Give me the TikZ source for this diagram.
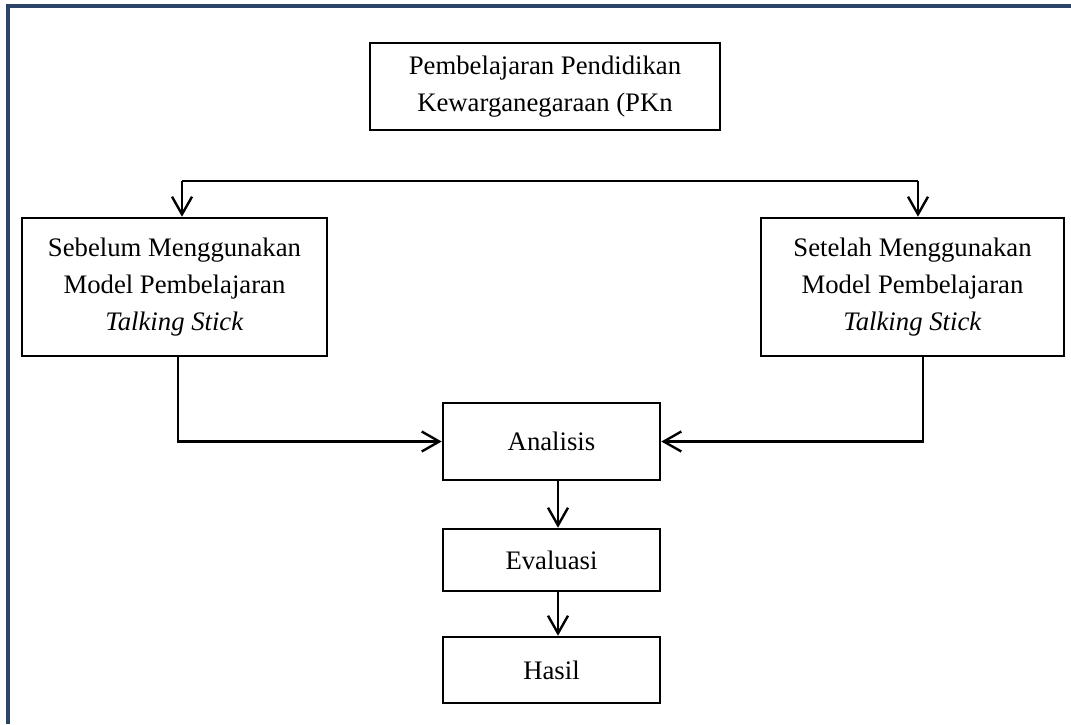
\documentclass[tikz,border=0pt]{standalone}
\usepackage{fontspec}
\setmainfont{Liberation Serif}
\usetikzlibrary{arrows.meta,calc}

\definecolor{bingkai}{RGB}{44,68,104}
\tikzset{
  kotak/.style={draw=black,line width=1.8pt,align=center,inner sep=2pt,
    font=\fontsize{19}{26.5}\selectfont},
  panah/.style={line width=1.7pt,-{Straight Barb[length=4.4mm,width=5mm,line width=1.7pt]}},
}

\begin{document}
\begin{tikzpicture}[x=0.025cm,y=-0.025cm]
  \useasboundingbox (0,0) rectangle (1071,724);
  \draw[bingkai,line width=2.4pt] (8,724) -- (8,6) -- (1071,6);

  \node[kotak,minimum width=8.75cm,minimum height=2.175cm] (pkn) at (545,86.5)
    {Pembelajaran Pendidikan\\Kewarganegaraan (PKn};
  \node[kotak,minimum width=7.625cm,minimum height=3.45cm] (sebelum) at (174.5,287)
    {Sebelum Menggunakan\\Model Pembelajaran\\\textit{Talking Stick}};
  \node[kotak,minimum width=7.575cm,minimum height=3.45cm] (setelah) at (912.5,287)
    {Setelah Menggunakan\\Model Pembelajaran\\\textit{Talking Stick}};
  \node[kotak,minimum width=5.425cm,minimum height=1.925cm] (analisis) at (551.5,441.5) {Analisis};
  \node[kotak,minimum width=5.425cm,minimum height=1.55cm] (evaluasi) at (551.5,560) {Evaluasi};
  \node[kotak,minimum width=5.425cm,minimum height=1.65cm] (hasil) at (551.5,670) {Hasil};

  % garis cabang atas
  \coordinate (ka) at (182,181);
  \coordinate (kb) at (918,181);
  \draw[line width=1pt] (ka) -- (kb);
  \draw[panah] (ka) -- (ka |- sebelum.north);
  \draw[panah] (kb) -- (kb |- setelah.north);

  \draw[panah] ($(sebelum.south)+(3.5,0)$) |- (analisis.west);
  \draw[panah] ($(setelah.south)+(10.5,0)$) |- (analisis.east);
  \draw[panah] ($(analisis.south)+(6.5,0)$) -- ($(evaluasi.north)+(6.5,0)$);
  \draw[panah] ($(evaluasi.south)+(6.5,0)$) -- ($(hasil.north)+(6.5,0)$);
\end{tikzpicture}
\end{document}
